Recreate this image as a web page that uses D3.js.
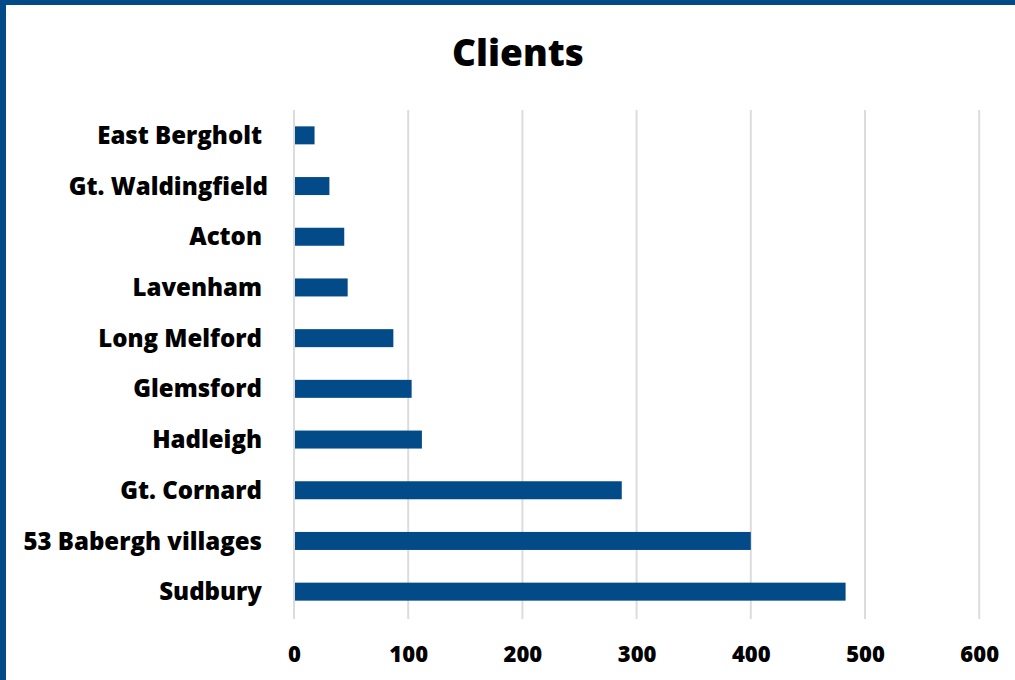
<!DOCTYPE html>
<html>
<head>
<meta charset="utf-8">
<script src="https://cdn.jsdelivr.net/npm/d3@7/dist/d3.min.js"></script>
<style>
  html, body { margin: 0; padding: 0; background: #fff; }
  svg { display: block; }
  text { font-family: "Open Sans", "Noto Sans", sans-serif; font-weight: 800; fill: #000; }
</style>
</head>
<body>
<svg id="chart" width="1015" height="680"></svg>
<script>
// Client counts by area
const categories = ["East Bergholt", "Gt. Waldingfield", "Acton", "Lavenham", "Long Melford",
  "Glemsford", "Hadleigh", "Gt. Cornard", "53 Babergh villages", "Sudbury"];
const clients = [18, 31, 44, 47, 87, 103, 112, 287, 400, 483];
const xTicks = [0, 100, 200, 300, 400, 500, 600];
const title = "Clients";

const W = 1015, H = 680;
const blue = "#034a89";
const svg = d3.select("#chart");

// frame: top and left edges
svg.append("rect").attr("x", 0).attr("y", 0).attr("width", W).attr("height", 5).attr("fill", blue);
svg.append("rect").attr("x", 0).attr("y", 0).attr("width", 6).attr("height", H).attr("fill", blue);

const plot = { left: 294, top: 110, bottom: 617 };

const x = d3.scaleLinear().domain([0, 600]).range([plot.left, plot.left + 6 * 114.2]);
const y = d3.scaleBand().domain(categories).range([plot.top, plot.bottom])
  .paddingInner(0.645).paddingOuter(0.3225);

// vertical gridlines
svg.append("g").selectAll("line").data(xTicks).join("line")
  .attr("x1", d => x(d)).attr("x2", d => x(d))
  .attr("y1", plot.top).attr("y2", plot.bottom + 2)
  .attr("stroke", "#dcdcdc").attr("stroke-width", 2);

// bars
svg.append("g").selectAll("rect").data(categories).join("rect")
  .attr("x", x(0) + 1)
  .attr("y", d => y(d))
  .attr("width", (d, i) => x(clients[i]) - x(0) - 1)
  .attr("height", y.bandwidth())
  .attr("fill", blue);

// category labels (most carry a trailing gap before the axis)
const flushLabels = new Set(["Gt. Waldingfield"]);
svg.append("g").selectAll("text").data(categories).join("text")
  .attr("x", d => flushLabels.has(d) ? 268 : 262)
  .attr("y", d => y(d) + y.bandwidth() / 2)
  .attr("dy", "0.36em")
  .attr("text-anchor", "end")
  .attr("font-size", 24)
  .text(d => d);

// x axis tick labels
const xAxis = d3.axisBottom(x).tickValues(xTicks).tickSize(0).tickPadding(0);
const gx = svg.append("g").attr("transform", `translate(0, 662)`).call(xAxis);
gx.select(".domain").remove();
gx.selectAll("text")
  .attr("y", 0).attr("dy", 0)
  .style("font-family", "\"Open Sans\", \"Noto Sans\", sans-serif")
  .style("font-weight", 800)
  .attr("font-size", 22)
  .attr("fill", "#000");

// title
svg.append("text")
  .attr("x", 518).attr("y", 66)
  .attr("text-anchor", "middle")
  .attr("font-size", 37)
  .text(title);
</script>
</body>
</html>
